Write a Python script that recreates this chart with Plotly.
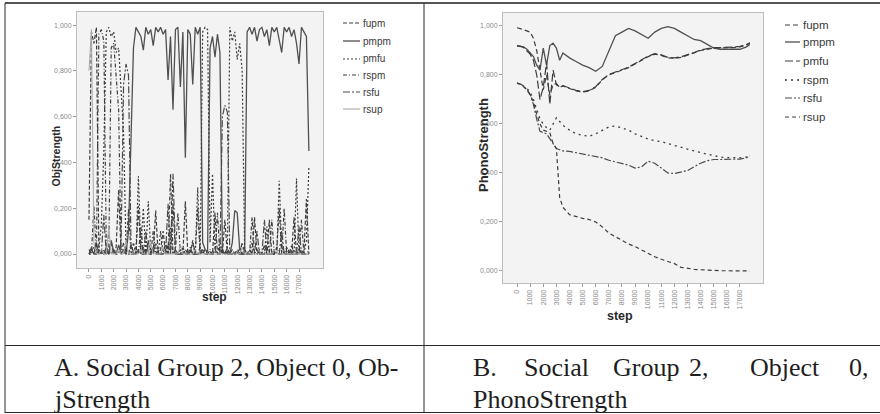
import plotly.graph_objects as go

W, H = 880, 414

# ---------------- data: chart A (ObjStrength) ----------------
steps_a = [i * 200 for i in range(90)]
objA_fupm = [0.15,0.97,0.92,0.99,0.01,0.00,0.02,0.00,0.00,0.05,
             0.00,0.03,0.28,0.00,0.01,0.00,0.00,0.04,0.01,0.00,
             0.21,0.00,0.03,0.00,0.06,0.00,0.00,0.19,0.00,0.02,
             0.10,0.00,0.04,0.00,0.22,0.00,0.00,0.02,0.00,0.23,
             0.00,0.01,0.05,0.00,0.00,0.03,0.00,0.02,0.00,0.01,
             0.00,0.18,0.00,0.03,0.00,0.15,0.00,0.00,0.02,0.00,
             0.00,0.03,0.00,0.00,0.00,0.02,0.00,0.16,0.00,0.01,
             0.00,0.04,0.00,0.15,0.00,0.00,0.02,0.20,0.00,0.00,
             0.03,0.00,0.00,0.16,0.00,0.02,0.00,0.01,0.24,0.00]
objA_pmpm = [0.00,0.02,0.00,0.05,0.00,0.01,0.00,0.03,0.00,0.06,
             0.01,0.00,0.04,0.00,0.02,0.00,0.10,0.53,0.90,0.99,
             0.97,0.95,0.89,0.99,0.96,0.98,0.91,0.99,0.97,0.99,
             0.96,0.98,0.76,0.95,0.63,0.98,0.99,0.73,0.97,0.42,
             0.98,0.96,0.74,0.99,0.96,0.99,0.05,0.02,0.01,0.90,
             0.95,0.86,0.96,0.88,0.02,0.00,0.01,0.00,0.05,0.19,
             0.18,0.02,0.00,0.00,0.97,0.99,0.96,0.99,0.93,0.98,
             0.99,0.95,0.98,0.91,0.99,0.97,0.99,0.94,0.88,0.99,
             0.97,0.99,0.95,0.98,0.92,0.83,0.99,0.97,0.95,0.45]
objA_pmfu = [0.00,0.00,0.03,0.00,0.02,0.13,0.45,0.97,0.99,0.95,
             0.97,0.88,0.90,0.72,0.53,0.02,0.00,0.00,0.05,0.00,
             0.34,0.02,0.20,0.00,0.23,0.01,0.00,0.05,0.00,0.10,
             0.00,0.02,0.00,0.12,0.00,0.01,0.00,0.00,0.03,0.00,
             0.00,0.02,0.00,0.00,0.29,0.00,0.97,0.99,0.98,0.05,
             0.35,0.02,0.00,0.06,0.00,0.01,0.00,0.99,0.93,0.97,
             0.85,0.92,0.80,0.02,0.00,0.00,0.05,0.00,0.00,0.02,
             0.00,0.00,0.12,0.00,0.00,0.00,0.00,0.32,0.03,0.00,
             0.00,0.02,0.00,0.00,0.33,0.00,0.02,0.00,0.06,0.38]
objA_rspm = [0.02,0.00,0.21,0.00,0.96,0.98,0.93,0.04,0.00,0.90,
             0.92,0.75,0.63,0.00,0.05,0.00,0.20,0.00,0.00,0.03,
             0.00,0.12,0.00,0.00,0.05,0.00,0.10,0.00,0.02,0.00,
             0.00,0.05,0.00,0.35,0.00,0.02,0.18,0.00,0.00,0.02,
             0.00,0.00,0.06,0.00,0.20,0.00,0.01,0.00,0.00,0.02,
             0.00,0.00,0.18,0.00,0.02,0.00,0.03,0.00,0.00,0.00,
             0.02,0.00,0.05,0.00,0.00,0.00,0.16,0.00,0.02,0.00,
             0.00,0.00,0.03,0.00,0.15,0.00,0.03,0.00,0.00,0.20,
             0.00,0.00,0.04,0.00,0.00,0.00,0.15,0.00,0.00,0.02]
objA_rsfu = [0.00,0.03,0.00,0.00,0.02,0.00,0.17,0.00,0.01,0.00,
             0.02,0.00,0.00,0.05,0.74,0.83,0.78,0.04,0.00,0.00,
             0.02,0.00,0.00,0.10,0.00,0.00,0.03,0.00,0.00,0.00,
             0.02,0.00,0.22,0.00,0.35,0.02,0.00,0.00,0.01,0.00,
             0.00,0.03,0.00,0.00,0.00,0.00,0.02,0.00,0.00,0.00,
             0.00,0.02,0.00,0.00,0.60,0.65,0.62,0.00,0.00,0.01,
             0.00,0.00,0.00,0.02,0.00,0.00,0.00,0.00,0.10,0.00,
             0.00,0.15,0.00,0.00,0.00,0.02,0.00,0.00,0.10,0.00,
             0.00,0.00,0.00,0.02,0.00,0.12,0.00,0.00,0.00,0.00]
objA_rsup = [0.80,0.98,0.05,0.00,0.00,0.02,0.00,0.00,0.12,0.00,
             0.00,0.00,0.02,0.00,0.00,0.06,0.00,0.00,0.00,0.00,
             0.00,0.02,0.00,0.00,0.00,0.05,0.00,0.00,0.00,0.00,
             0.03,0.00,0.00,0.00,0.00,0.00,0.00,0.04,0.00,0.00,
             0.00,0.00,0.00,0.02,0.00,0.00,0.00,0.00,0.00,0.00,
             0.00,0.00,0.00,0.00,0.00,0.00,0.00,0.00,0.00,0.00,
             0.00,0.00,0.03,0.00,0.00,0.00,0.00,0.00,0.00,0.00,
             0.00,0.00,0.00,0.00,0.00,0.02,0.00,0.00,0.00,0.00,
             0.00,0.00,0.00,0.00,0.00,0.00,0.00,0.00,0.00,0.00]

# ---------------- data: chart B (PhonoStrength) ----------------
steps_b = [0, 250, 500, 750, 1000, 1250, 1500, 1750, 2000, 2250, 2500, 2750,
           3000, 3250, 3500, 4000, 4500, 5000, 5500, 6000, 6500, 7000, 7500,
           8000, 8500, 9000, 9500, 10000, 10500, 11000, 11500, 12000, 12500,
           13000, 13500, 14000, 14500, 15000, 15500, 16000, 16500, 17000,
           17500, 17750]
phonoB_fupm = [0.993, 0.99, 0.985, 0.98, 0.975, 0.95, 0.90, 0.82, 0.74, 0.80, 0.72, 0.76,
               0.765, 0.75, 0.755, 0.745, 0.735, 0.73, 0.735, 0.75, 0.78, 0.80, 0.81,
               0.82, 0.83, 0.845, 0.86, 0.875, 0.885, 0.88, 0.87, 0.868, 0.872,
               0.88, 0.89, 0.90, 0.905, 0.91, 0.91, 0.91, 0.912, 0.915,
               0.922, 0.93]
phonoB_pmpm = [0.918, 0.917, 0.915, 0.905, 0.89, 0.875, 0.84, 0.82, 0.91, 0.84, 0.92, 0.93,
               0.91, 0.86, 0.89, 0.87, 0.855, 0.84, 0.83, 0.815, 0.835, 0.90, 0.96,
               0.975, 0.99, 0.98, 0.965, 0.95, 0.975, 0.99, 0.997, 0.99, 0.975,
               0.96, 0.945, 0.94, 0.925, 0.91, 0.905, 0.906, 0.905, 0.905,
               0.915, 0.925]
phonoB_pmfu = [0.92, 0.918, 0.912, 0.90, 0.885, 0.86, 0.80, 0.70, 0.75, 0.85, 0.68, 0.82,
               0.76, 0.752, 0.757, 0.747, 0.737, 0.732, 0.737, 0.752, 0.782, 0.802, 0.812,
               0.822, 0.832, 0.847, 0.862, 0.877, 0.887, 0.882, 0.872, 0.87, 0.874,
               0.882, 0.892, 0.902, 0.907, 0.912, 0.912, 0.912, 0.914, 0.917,
               0.924, 0.932]
phonoB_rspm = [0.767, 0.762, 0.755, 0.745, 0.73, 0.70, 0.66, 0.62, 0.60, 0.585, 0.575, 0.60,
               0.625, 0.61, 0.595, 0.575, 0.56, 0.553, 0.55, 0.56, 0.575, 0.588, 0.592,
               0.585, 0.575, 0.56, 0.548, 0.538, 0.532, 0.528, 0.52, 0.512, 0.503,
               0.497, 0.49, 0.483, 0.477, 0.47, 0.465, 0.463, 0.462, 0.462,
               0.465, 0.47]
phonoB_rsfu = [0.767, 0.763, 0.755, 0.74, 0.72, 0.68, 0.62, 0.57, 0.565, 0.56, 0.54, 0.52,
               0.50, 0.495, 0.49, 0.488, 0.483, 0.478, 0.475, 0.47, 0.462, 0.452, 0.445,
               0.44, 0.432, 0.42, 0.425, 0.448, 0.44, 0.42, 0.40, 0.398, 0.405,
               0.41, 0.425, 0.44, 0.45, 0.455, 0.455, 0.455, 0.456, 0.457,
               0.462, 0.47]
phonoB_rsup = [0.767, 0.762, 0.752, 0.74, 0.72, 0.69, 0.64, 0.60, 0.575, 0.57, 0.565, 0.52,
               0.50, 0.30, 0.26, 0.23, 0.222, 0.215, 0.21, 0.20, 0.18, 0.155, 0.14,
               0.125, 0.11, 0.10, 0.085, 0.07, 0.058, 0.048, 0.04, 0.03, 0.015,
               0.01, 0.007, 0.005, 0.003, 0.002, 0.001, 0.001, 0.0, 0.0,
               0.0, 0.0]

series_names = ["fupm", "pmpm", "pmfu", "rspm", "rsfu", "rsup"]
x_tick_vals = [i * 1000 for i in range(18)]
x_tick_text = [str(v) for v in x_tick_vals]
y_tick_vals = [0.0, 0.2, 0.4, 0.6, 0.8, 1.0]
y_tick_text = ["0,000", "0,200", "0,400", "0,600", "0,800", "1,000"]

# ---------------- styles ----------------
DARK = "#3c3c3c"
styles_a = {
    "fupm": dict(color=DARK, width=1.2, dash="4px,2px"),
    "pmpm": dict(color="#505050", width=1.3, dash="solid"),
    "pmfu": dict(color=DARK, width=1.2, dash="2px,2px"),
    "rspm": dict(color=DARK, width=1.2, dash="4px,2px,1px,2px"),
    "rsfu": dict(color="#4a4a4a", width=1.2, dash="7px,2px,2px,2px"),
    "rsup": dict(color="#a8a8a8", width=1.0, dash="solid"),
}
styles_b = {
    "fupm": dict(color=DARK, width=1.2, dash="5px,3px"),
    "pmpm": dict(color="#505050", width=1.3, dash="solid"),
    "pmfu": dict(color=DARK, width=1.2, dash="8px,3px"),
    "rspm": dict(color=DARK, width=1.3, dash="2px,4px"),
    "rsfu": dict(color="#4a4a4a", width=1.2, dash="7px,2px,2px,2px"),
    "rsup": dict(color=DARK, width=1.2, dash="4px,3px"),
}

def px_x(p):
    return p / W

def px_y(p):
    return 1 - p / H

fig = go.Figure()

data_a = [objA_fupm, objA_pmpm, objA_pmfu, objA_rspm, objA_rsfu, objA_rsup]
data_b = [phonoB_fupm, phonoB_pmpm, phonoB_pmfu, phonoB_rspm, phonoB_rsfu, phonoB_rsup]
for name, ys in zip(series_names, data_a):
    fig.add_trace(go.Scatter(x=steps_a, y=ys, mode="lines", name=name,
                             line=styles_a[name], xaxis="x", yaxis="y",
                             showlegend=False))
for name, ys in zip(series_names, data_b):
    fig.add_trace(go.Scatter(x=steps_b, y=ys, mode="lines", name=name,
                             line=styles_b[name], xaxis="x2", yaxis="y2",
                             showlegend=False))

tick_font = dict(family="Liberation Sans, Arial", size=7, color="#8a8a8a")
common_x = dict(tickmode="array", tickvals=x_tick_vals, ticktext=x_tick_text,
                tickangle=-90, tickfont=tick_font, ticks="outside", ticklen=3,
                tickcolor="#9a9a9a", showgrid=False, zeroline=False,
                showline=True, mirror=True, linecolor="#bdbdbd", linewidth=1)
common_y = dict(tickmode="array", tickvals=y_tick_vals, ticktext=y_tick_text,
                tickfont=tick_font, ticks="outside", ticklen=3,
                tickcolor="#9a9a9a", showgrid=False, zeroline=False,
                showline=True, mirror=True, linecolor="#bdbdbd", linewidth=1)

fig.update_layout(
    width=W, height=H, margin=dict(l=0, r=0, t=0, b=0),
    paper_bgcolor="white", plot_bgcolor="#f3f3f3",
    xaxis=dict(domain=[px_x(77), px_x(323)], range=[-970, 18943], anchor="y", **common_x),
    yaxis=dict(domain=[px_y(268), px_y(12)], range=[-0.061, 1.057], anchor="x", **common_y),
    xaxis2=dict(domain=[px_x(503), px_x(763)], range=[-1070, 18755], anchor="y2", **common_x),
    yaxis2=dict(domain=[px_y(283), px_y(13)], range=[-0.049, 1.053], anchor="x2", **common_y),
)

shapes = []
annotations = []

# table lines
line_col = "#2a2a2a"
shapes.append(dict(type="line", xref="paper", yref="paper", x0=px_x(5), x1=1, y0=px_y(3), y1=px_y(3),
                   line=dict(color="#555", width=2)))
shapes.append(dict(type="line", xref="paper", yref="paper", x0=px_x(5), x1=px_x(5), y0=px_y(3), y1=px_y(413),
                   line=dict(color=line_col, width=1)))
shapes.append(dict(type="line", xref="paper", yref="paper", x0=px_x(424), x1=px_x(424), y0=px_y(3), y1=px_y(413),
                   line=dict(color=line_col, width=1)))
shapes.append(dict(type="line", xref="paper", yref="paper", x0=px_x(5), x1=1, y0=px_y(345.5), y1=px_y(345.5),
                   line=dict(color=line_col, width=1)))
shapes.append(dict(type="line", xref="paper", yref="paper", x0=px_x(5), x1=1, y0=px_y(412.5), y1=px_y(412.5),
                   line=dict(color=line_col, width=1)))

# manual legends
def add_legend(x0, x1, ys, styles, fsize, rsup_color):
    for name, yy in zip(series_names, ys):
        st = styles[name]
        col = rsup_color if name == "rsup" else st["color"]
        shapes.append(dict(type="line", xref="paper", yref="paper",
                           x0=px_x(x0), x1=px_x(x1), y0=px_y(yy), y1=px_y(yy),
                           line=dict(color=col, width=st["width"], dash=st["dash"])))
        annotations.append(dict(xref="paper", yref="paper", x=px_x(x1 + 1), y=px_y(yy),
                                text=name, showarrow=False, xanchor="left", yanchor="middle",
                                font=dict(family="Liberation Sans, Arial", size=fsize, color="#3a3a3a")))

add_legend(343, 360, [23, 41, 59, 75, 92, 109], styles_a, 10, "#a0a0a0")
add_legend(785, 800, [25, 42, 61, 80, 98, 117], styles_b, 11.5, DARK)

# axis titles
annotations.append(dict(xref="paper", yref="paper", x=px_x(47), y=px_y(124), text="<b>ObjStrength</b>",
                        textangle=-90, showarrow=False,
                        font=dict(family="Liberation Sans, Arial", size=10.5, color="#2a2a2a")))
annotations.append(dict(xref="paper", yref="paper", x=px_x(483), y=px_y(145), text="<b>PhonoStrength</b>",
                        textangle=-90, showarrow=False,
                        font=dict(family="Liberation Sans, Arial", size=13, color="#2a2a2a")))
annotations.append(dict(xref="paper", yref="paper", x=px_x(200), y=px_y(306), text="<b>step</b>",
                        showarrow=False, font=dict(family="Liberation Sans, Arial", size=12, color="#2a2a2a")))
annotations.append(dict(xref="paper", yref="paper", x=px_x(635), y=px_y(325), text="<b>step</b>",
                        showarrow=False, font=dict(family="Liberation Sans, Arial", size=12.5, color="#2a2a2a")))

# captions
cap_font = dict(family="Liberation Serif, Times New Roman, serif", size=26, color="#1e1e1e")
def cap(x, y, txt):
    annotations.append(dict(xref="paper", yref="paper", x=px_x(x), y=px_y(y), text=txt,
                            showarrow=False, xanchor="left", yanchor="middle", font=cap_font))

cap(52, 367, "A. Social Group 2, Object 0, Ob-")
cap(52, 399, "jStrength")
for word, xx in zip(["B.", "Social", "Group", "2,", "Object", "0,"],
                    [471, 522, 611, 687, 748, 847]):
    cap(xx, 367, word)
cap(471, 399, "PhonoStrength")

fig.update_layout(shapes=shapes, annotations=annotations)
fig.write_html("out.html")
